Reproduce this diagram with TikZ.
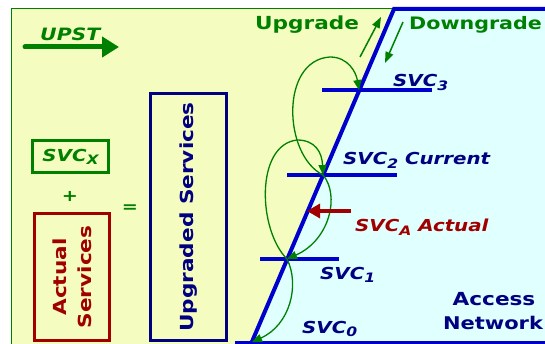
\documentclass[tikz,border=0pt]{standalone}
\usepackage{fontspec}
\setmainfont{DejaVu Sans}[FakeStretch=1.2]
\usetikzlibrary{arrows.meta}
\definecolor{bgyellow}{RGB}{245,252,192}
\definecolor{bgcyan}{RGB}{224,255,255}
\definecolor{dgreen}{RGB}{0,128,0}
\definecolor{navyc}{RGB}{0,0,128}
\definecolor{lblue}{RGB}{0,0,204}
\definecolor{dred}{RGB}{160,0,0}
\newcommand\lowsub[1]{\raisebox{-0.35ex}{\fontsize{13}{13}\selectfont #1}}
\begin{document}
\begin{tikzpicture}[x=1pt,y=-1pt,
  lbl/.style={inner sep=0pt, font=\bfseries\fontsize{18}{18}\selectfont},
  svc/.style={inner sep=0pt, anchor=base west, text=navyc, font=\bfseries\itshape\fontsize{16.5}{16.5}\selectfont},
  level/.style={lblue, line width=4pt},
  loopar/.style={dgreen, line width=1.3pt, -{Triangle[length=10pt,width=8pt]}},
  thinar/.style={dgreen, line width=1.5pt, -{Triangle[length=11pt,width=8pt]}},
  boxnode/.style={draw, line width=3pt, inner sep=0pt}]
\useasboundingbox (0,0) rectangle (545,344);
% backgrounds
\fill[white] (0,0) rectangle (545,344);
\fill[bgyellow] (11,8) rectangle (545,344);
\fill[bgcyan] (394,9) -- (545,9) -- (545,344) -- (251,344) -- cycle;
\draw[dgreen, line width=0.8pt] (11,344) -- (11,8) -- (394,8);
% key points
\coordinate (ntop) at (394,9);
\coordinate (nbot) at (251,344);
\coordinate (s3) at (359,90);
\coordinate (s2) at (323,175);
\coordinate (s1) at (287,259);
\coordinate (s0) at (252,342);
\coordinate (l3a) at (322,90);  \coordinate (l3b) at (432,90);
\coordinate (l2a) at (287,175); \coordinate (l2b) at (397,175);
\coordinate (l1a) at (260,259); \coordinate (l1b) at (339,259);
\coordinate (l0a) at (235,342); \coordinate (l0b) at (545,342);
\coordinate (tr) at (545,9);
% level lines
\draw[level] (l3a) -- (l3b);
\draw[level] (l2a) -- (l2b);
\draw[level] (l1a) -- (l1b);
\draw[lblue, line width=3pt] (l0a) -- (l0b);
\draw[lblue, line width=4pt] (tr) -- (ntop) -- (nbot);
% loops
\draw[loopar] (s2) .. controls (283,155) and (280,60) .. (330,57) .. controls (348,57) and (356,72) .. (s3);
\draw[loopar] (s1) .. controls (258,230) and (255,145) .. (297,140) .. controls (315,140) and (322,152) .. (s2);
\draw[loopar] (s2) .. controls (340,195) and (330,240) .. (s1);
\draw[loopar] (s1) .. controls (300,285) and (290,325) .. (s0);
% upgrade / downgrade arrows
\coordinate (ua) at (360,57); \coordinate (ub) at (381,17);
\coordinate (da) at (403,22); \coordinate (db) at (385,63);
\draw[thinar] (ua) -- (ub);
\draw[thinar] (da) -- (db);
% actual arrow
\coordinate (aa) at (351,211); \coordinate (ab) at (307,211);
\draw[dred, line width=4pt, -{Triangle[length=13pt,width=14pt]}] (aa) -- (ab);
% UPST arrow
\coordinate (pa) at (25,47); \coordinate (pb) at (119,47);
\draw[dgreen, line width=5pt, line cap=round, -{Triangle[length=17pt,width=20pt]}] (pa) -- (pb);
% texts
\node[lbl, text=dgreen, anchor=base west] (up) at (255,30) {Upgrade};
\node[lbl, text=dgreen, anchor=base west, font=\bfseries\fontsize{17.2}{17.2}\selectfont] (down) at (409,30) {Downgrade};
\node[svc] (t3) at (393,87) {SVC\lowsub{3}};
\node[svc] (t2) at (343,165) {SVC\lowsub{2} Current};
\node[svc, text=dred] (ta) at (355,232) {SVC\lowsub{A} Actual};
\node[svc] (t1) at (320,279) {SVC\lowsub{1}};
\node[svc] (t0) at (302,333) {SVC\lowsub{0}};
\node[lbl, text=navyc, anchor=base] (acc) at (494,305) {Access};
\node[lbl, text=navyc, anchor=base, font=\bfseries\fontsize{17.5}{17.5}\selectfont] (net) at (493,329) {Network};
\node[inner sep=0pt, anchor=base west, text=dgreen, font=\bfseries\itshape\fontsize{17}{17}\selectfont] (upst) at (40,41) {UPST};
% boxes
\node[boxnode, draw=dgreen, minimum width=76pt, minimum height=32pt, text=dgreen, font=\bfseries\itshape\fontsize{16.5}{16.5}\selectfont] (svx) at (70.5,156.5) {SVC\lowsub{X}};
\node[text=dgreen, font=\bfseries\fontsize{16}{16}\selectfont, inner sep=0pt] (plus) at (70,196) {+};
\node[text=dgreen, font=\bfseries\fontsize{16}{16}\selectfont, inner sep=0pt] (eq) at (130,209) {=};
\node[boxnode, draw=dred, rotate=90, minimum width=127pt, minimum height=75pt, text=dred, align=center, font=\bfseries\fontsize{18}{25}\selectfont] (act) at (72,277) {Actual\\Services};
\node[boxnode, draw=navyc, rotate=90, minimum width=247pt, minimum height=76pt, text=navyc, font=\bfseries\fontsize{18}{18}\selectfont] (upg) at (188.5,217) {Upgraded Services};
\end{tikzpicture}
\end{document}
